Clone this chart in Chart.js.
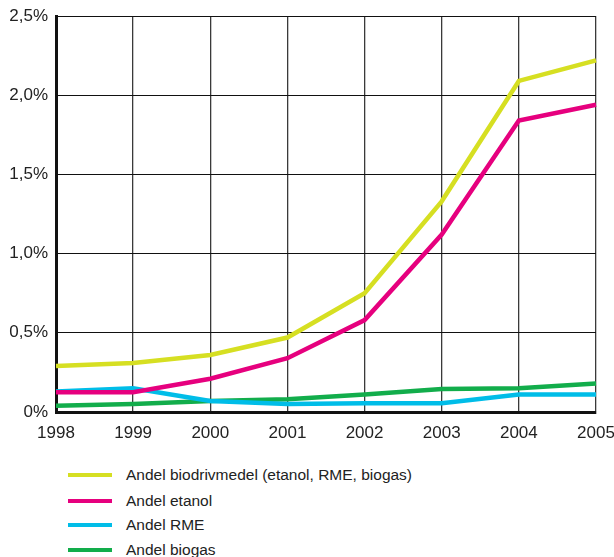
<!DOCTYPE html>
<html>
<head>
<meta charset="utf-8">
<script src="https://cdn.jsdelivr.net/npm/chart.js@4/dist/chart.umd.min.js"></script>
<style>
  html, body { margin: 0; padding: 0; background: #fff; }
  #wrap { position: relative; width: 614px; height: 557px; font-family: "Liberation Sans", Arial, sans-serif; overflow: hidden; }
  #chartBox { position: absolute; left: 0; top: 0; width: 614px; height: 450px; }
  .legend { position: absolute; left: 0; top: 0; }
  .item { position: absolute; left: 68px; height: 20px; white-space: nowrap; }
  .swatch { position: absolute; left: 0; top: 8px; width: 44px; height: 4px; }
  .label { position: absolute; left: 58px; top: 0; font-size: 15.5px; line-height: 20px; color: #222; }
</style>
</head>
<body>
<div id="wrap">
  <div id="chartBox"><canvas id="c" width="614" height="450"></canvas></div>
  <div class="legend" id="legend"></div>
</div>
<script>
// Biofuel share of road fuel, per year (percent)
const years = ['1998', '1999', '2000', '2001', '2002', '2003', '2004', '2005'];
const biofuelTotal = [0.29, 0.31, 0.36, 0.47, 0.75, 1.33, 2.09, 2.22];
const ethanol      = [0.125, 0.125, 0.21, 0.34, 0.58, 1.12, 1.84, 1.94];
const rme          = [0.13, 0.15, 0.07, 0.05, 0.055, 0.055, 0.11, 0.11];
const biogas       = [0.04, 0.05, 0.07, 0.08, 0.11, 0.145, 0.15, 0.18];
const yTickLabels  = ['0%', '0,5%', '1,0%', '1,5%', '2,0%', '2,5%'];

const seriesNames  = [
  'Andel biodrivmedel (etanol, RME, biogas)',
  'Andel etanol',
  'Andel RME',
  'Andel biogas'
];
const seriesColors = ['#d6df22', '#e6007e', '#00bde8', '#12ad4b'];
const seriesData   = [biofuelTotal, ethanol, rme, biogas];

const font = { family: '"Liberation Sans", Arial, sans-serif', size: 17 };

new Chart(document.getElementById('c'), {
  type: 'line',
  data: {
    labels: years,
    datasets: seriesData.map((d, i) => ({
      label: seriesNames[i],
      data: d,
      borderColor: seriesColors[i],
      backgroundColor: seriesColors[i],
      borderWidth: 4.5,
      pointRadius: 0,
      tension: 0,
      borderJoinStyle: 'miter',
      order: i === 3 ? 4 : i
    }))
  },
  options: {
    responsive: false,
    animation: false,
    layout: { padding: { top: 16, left: 0, right: 18, bottom: 0 } },
    plugins: { legend: { display: false }, tooltip: { enabled: false } },
    scales: {
      x: {
        type: 'category',
        offset: false,
        grid: { color: '#3a3a3a', lineWidth: 1.3, drawTicks: false },
        border: { color: '#111', width: 3 },
        ticks: { font, color: '#222', padding: 11, maxRotation: 0, autoSkip: false },
        afterFit: s => { s.height = 38; s.paddingLeft = 0; s.paddingRight = 0; }
      },
      y: {
        min: 0,
        max: 2.5,
        grid: { color: '#111', lineWidth: 1, drawTicks: false },
        border: { color: '#111', width: 3 },
        ticks: {
          font, color: '#222', padding: 8, stepSize: 0.5,
          callback: (v, i) => yTickLabels[i]
        },
        afterFit: s => { s.width = 56; s.paddingTop = 0; s.paddingBottom = 0; }
      }
    }
  }
});

// Legend below the plot
const legend = document.getElementById('legend');
const rowTops = [465, 491, 515, 540];
seriesNames.forEach((name, i) => {
  const item = document.createElement('div');
  item.className = 'item';
  item.style.top = rowTops[i] + 'px';
  const sw = document.createElement('div');
  sw.className = 'swatch';
  sw.style.background = seriesColors[i];
  const lb = document.createElement('div');
  lb.className = 'label';
  lb.textContent = name;
  item.appendChild(sw);
  item.appendChild(lb);
  legend.appendChild(item);
});
</script>
</body>
</html>
